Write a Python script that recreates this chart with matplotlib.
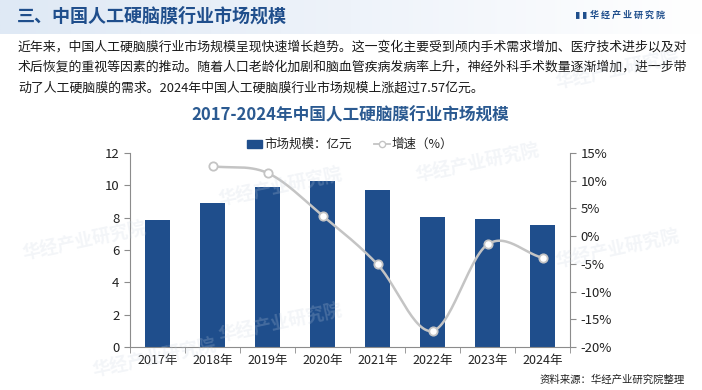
"""
2017-2024年中国人工硬脑膜行业市场规模 - bar + smoothed growth line
"""
import matplotlib.pyplot as plt
import numpy as np

plt.rcParams['font.family'] = ['Noto Sans CJK SC', 'DejaVu Sans']

years = ['2017年', '2018年', '2019年', '2020年', '2021年', '2022年', '2023年', '2024年']
market_size = [7.88, 8.88, 9.87, 10.25, 9.72, 8.05, 7.89, 7.57]   # 亿元
growth = [None, 12.6, 11.4, 3.7, -5.1, -17.1, -1.5, -3.9]        # %

header = '三、中国人工硬脑膜行业市场规模'
paragraph = [
    '近年来，中国人工硬脑膜行业市场规模呈现快速增长趋势。这一变化主要受到颅内手术需求增加、医疗技术进步以及对',
    '术后恢复的重视等因素的推动。随着人口老龄化加剧和脑血管疾病发病率上升，神经外科手术数量逐渐增加，进一步带',
    '动了人工硬脑膜的需求。2024年中国人工硬脑膜行业市场规模上涨超过7.57亿元。',
]
title = '2017-2024年中国人工硬脑膜行业市场规模'
source = '资料来源：华经产业研究院整理'

BLUE = '#1f4e8c'
GRAY = '#c4c4c4'
AXIS = '#8c8c8c'


def catmull_rom(xs, ys, n=30):
    """Smooth curve through the points (Excel-like smoothed line)"""
    xs = np.asarray(xs, float)
    ys = np.asarray(ys, float)
    px = np.concatenate([[2 * xs[0] - xs[1]], xs, [2 * xs[-1] - xs[-2]]])
    py = np.concatenate([[2 * ys[0] - ys[1]], ys, [2 * ys[-1] - ys[-2]]])
    out_x, out_y = [], []
    t = np.linspace(0, 1, n)
    for i in range(1, len(px) - 2):
        for p, out in ((px, out_x), (py, out_y)):
            p0, p1, p2, p3 = p[i - 1], p[i], p[i + 1], p[i + 2]
            out.extend(0.5 * ((2 * p1) + (-p0 + p2) * t
                              + (2 * p0 - 5 * p1 + 4 * p2 - p3) * t ** 2
                              + (-p0 + 3 * p1 - 3 * p2 + p3) * t ** 3))
    return np.array(out_x), np.array(out_y)


W, H = 702, 390
fig = plt.figure(figsize=(W / 100, H / 100), dpi=100)
fig.patch.set_facecolor('white')

# Header band with light gradient
band = fig.add_axes([0, 1 - 34 / H, 1, 34 / H])
grad = np.linspace(0, 1, 256).reshape(1, -1)
band.imshow(grad, aspect='auto', cmap=plt.matplotlib.colors.LinearSegmentedColormap.from_list(
    'hdr', ['#dfe9f5', '#eef3fa', '#ffffff']), extent=[0, 1, 0, 1])
band.axis('off')

fig.text(17 / W, 1 - 16 / H, header, fontsize=13, color=BLUE, fontweight='bold', va='center')
fig.text(590 / W, 1 - 15 / H, '华 经 产 业 研 究 院', fontsize=6.5, color=BLUE,
         fontweight='bold', va='center')
fig.text(576 / W, 1 - 15 / H, '▌▌', fontsize=5, color=BLUE, va='center')

for i, line in enumerate(paragraph):
    fig.text(18 / W, 1 - (47 + i * 20.5) / H, line, fontsize=9.3, color='#1a1a1a', va='center')

fig.text(350 / W, 1 - 115 / H, title, fontsize=12, color='#2b5a91', fontweight='bold',
         ha='center', va='center')

# Faint watermarks
for wx, wy in [(0.12, 0.38), (0.40, 0.52), (0.68, 0.58), (0.40, 0.17), (0.22, 0.08), (0.88, 0.36), (0.88, 0.82)]:
    fig.text(wx, wy, '华经产业研究院', fontsize=13, color='#c8d3e0', alpha=0.22,
             rotation=12, ha='center', va='center', fontweight='bold')

# Main chart
ax = fig.add_axes([130 / W, 43 / H, 440 / W, 194 / H])
ax.patch.set_alpha(0)
x = np.arange(len(years))
ax.bar(x, market_size, width=0.44, color=BLUE, zorder=2, label='市场规模：亿元')
ax.set_xlim(-0.5, len(years) - 0.5)
ax.set_ylim(0, 12)
ax.set_yticks(range(0, 13, 2))
ax.set_xticks(x)
ax.set_xticklabels(years, fontsize=9, color='#222222')
ax.set_xticks(np.arange(-0.5, len(years), 1), minor=True)
ax.tick_params(axis='x', which='major', length=0, pad=5)
ax.tick_params(axis='x', which='minor', length=4, color=AXIS)
ax.tick_params(axis='y', labelsize=9.5, labelcolor='#222222', length=4, color=AXIS)
for side in ['top', 'right']:
    ax.spines[side].set_visible(False)
for side in ['left', 'bottom']:
    ax.spines[side].set_color(AXIS)

ax2 = ax.twinx()
ax2.set_ylim(-20, 15)
ax2.set_yticks(range(-20, 16, 5))
ax2.set_yticklabels([f'{v}%' for v in range(-20, 16, 5)])
ax2.tick_params(axis='y', labelsize=9.5, labelcolor='#222222', length=4, color=AXIS)
for side in ['top', 'left', 'bottom']:
    ax2.spines[side].set_visible(False)
ax2.spines['right'].set_color(AXIS)

gx = [i for i, g in enumerate(growth) if g is not None]
gy = [g for g in growth if g is not None]
sx, sy = catmull_rom(gx, gy)
ax2.plot(sx, sy, color=GRAY, linewidth=1.8, zorder=3)
ax2.plot(gx, gy, linestyle='none', marker='o', markersize=6, markerfacecolor='white',
         markeredgecolor=GRAY, markeredgewidth=1.3, zorder=4)

# Legend
fig.patches.append(plt.Rectangle((247 / W, 1 - 148 / H), 15 / W, 8 / H, color=BLUE,
                                 transform=fig.transFigure))
fig.text(264 / W, 1 - 144 / H, '市场规模：亿元', fontsize=9, color='#222222', va='center')
fig.add_artist(plt.Line2D([374 / W, 390 / W], [1 - 144 / H, 1 - 144 / H], color=GRAY,
                          linewidth=1.3, transform=fig.transFigure))
fig.add_artist(plt.Line2D([382 / W], [1 - 144 / H], marker='o', markersize=4.5,
                          markerfacecolor='white', markeredgecolor=GRAY,
                          transform=fig.transFigure))
fig.text(392 / W, 1 - 144 / H, '增速（%）', fontsize=9, color='#222222', va='center')

fig.text(685 / W, 1 - 380 / H, source, fontsize=7.5, color='#222222', ha='right', va='center')

plt.savefig('out.png', dpi=100, facecolor='white')
plt.close()
